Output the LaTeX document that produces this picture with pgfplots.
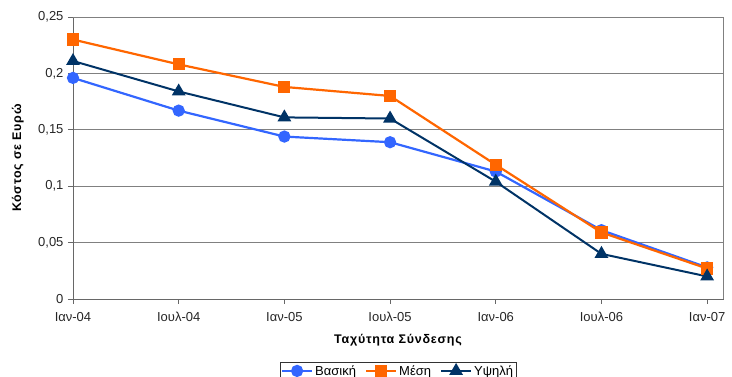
\documentclass[border=0pt]{standalone}
\usepackage{fontspec}
\setmainfont{Liberation Sans}
\newfontfamily\spacedbold[LetterSpace=6]{Liberation Sans}
\usepackage{pgfplots}
\pgfplotsset{compat=1.18}
\usetikzlibrary{calc}

\definecolor{cBasic}{RGB}{51,102,255}
\definecolor{cMid}{RGB}{255,102,0}
\definecolor{cHigh}{RGB}{0,51,102}
\definecolor{cGrid}{RGB}{128,128,128}

\pgfplotstableread{
x basic mid high
0 0.196 0.230 0.211
1 0.167 0.208 0.184
2 0.144 0.188 0.161
3 0.139 0.180 0.160
4 0.113 0.119 0.104
5 0.061 0.059 0.040
6 0.028 0.027 0.020
}\costs

\begin{document}
\begin{tikzpicture}
\begin{axis}[
  name=ax,
  scale only axis,
  width=650pt, height=282pt,
  xmin=0, xmax=6.15,
  ymin=0, ymax=0.25,
  ytick={0,0.05,0.1,0.15,0.2,0.25},
  yticklabels={0,{0,05},{0,1},{0,15},{0,2},{0,25}},
  xtick={0,1,2,3,4,5,6},
  xticklabels={Ιαν-04,Ιουλ-04,Ιαν-05,Ιουλ-05,Ιαν-06,Ιουλ-06,Ιαν-07},
  tick align=outside,
  tick pos=left,
  major tick length=5pt,
  tick style={cGrid!80!black, line width=0.8pt},
  ymajorgrids,
  grid style={cGrid, line width=0.8pt},
  axis line style={cGrid!80!black, line width=0.8pt},
  tick label style={font=\fontsize{13}{15}\selectfont, text=black!85},
  yticklabel style={xshift=-1pt},
  xticklabel style={yshift=-5pt},
  xlabel={\spacedbold\bfseries Ταχύτητα Σύνδεσης},
  ylabel={\spacedbold\bfseries Κόστος σε Ευρώ},
  label style={font=\fontsize{12.5}{15}\selectfont},
  xlabel style={at={(axis description cs:0.5,-0.147)}, anchor=center},
  ylabel style={at={(axis description cs:-0.085,0.5)}, anchor=center},
  legend columns=-1,
  legend style={at={(axis description cs:0.5,-0.223)}, anchor=north,
    draw=black!80, line width=0.8pt, font=\fontsize{13}{15}\selectfont,
    inner sep=1pt, row sep=0pt,
    /tikz/every even column/.append style={column sep=7pt}},
  legend image code/.code={
    \draw[#1] (0cm,0cm) -- (30pt,0cm);
    \draw[#1, mark repeat=2, mark phase=2] plot coordinates {(0pt,0cm) (15pt,0cm) (30pt,0cm)};
  },
  clip=false,
]
\addplot[cBasic, line width=2.2pt, mark=*, mark size=5pt, mark options={solid}]
  table[x=x, y=basic] {\costs};
\addlegendentry{Βασική}
\addplot[cMid, line width=2.2pt, mark=square*, mark size=5pt, mark options={solid}]
  table[x=x, y=mid] {\costs};
\addlegendentry{Μέση}
\addplot[cHigh, line width=2pt, mark=triangle*, mark size=6pt, mark options={solid}]
  table[x=x, y=high] {\costs};
\addlegendentry{Υψηλή}
% plot-area frame on top and right
\draw[cGrid, line width=0.8pt] (rel axis cs:0,1) -- (rel axis cs:1,1) -- (rel axis cs:1,0);
\end{axis}
\pgfresetboundingbox
\path[use as bounding box] ($(ax.south west)+(-73pt,-78pt)$) rectangle ($(ax.north east)+(9pt,17pt)$);
\end{tikzpicture}
\end{document}
